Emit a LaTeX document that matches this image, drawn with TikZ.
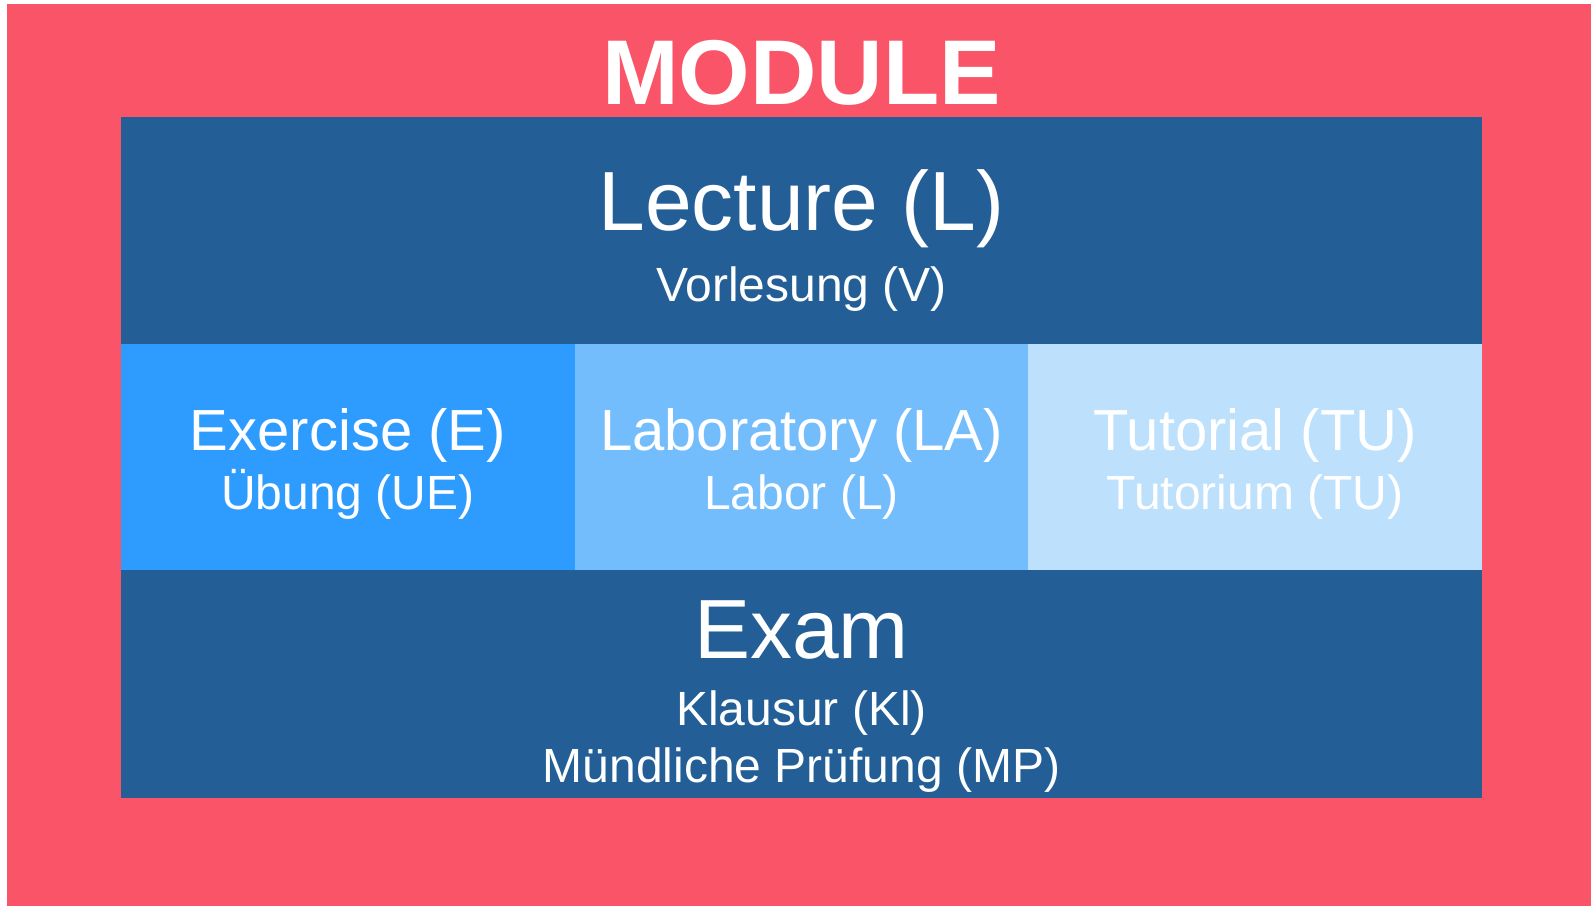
\documentclass[tikz,border=0pt]{standalone}
\usepackage{fontspec}
\setmainfont{Liberation Sans}
\usetikzlibrary{positioning}
\definecolor{modred}{RGB}{249,84,103}
\definecolor{darkband}{RGB}{35,95,150}
\definecolor{exblue}{RGB}{46,156,255}
\definecolor{lablue}{RGB}{116,189,253}
\definecolor{tublue}{RGB}{189,224,253}
\tikzset{
    %Define style for the coloured bands
    band/.style={
           rectangle,
           inner sep=0pt, outer sep=0pt,
           fill=darkband,
           minimum width=680.5pt,
           minimum height=113.5pt},
    part/.style={
           rectangle,
           inner sep=0pt, outer sep=0pt,
           minimum width=226.83pt,
           minimum height=113pt},
    %Define text styles
    heading/.style={
           text=white, inner sep=0pt, anchor=base,
           font=\bfseries\fontsize{46}{50}\selectfont},
    big/.style={
           text=white, inner sep=0pt, anchor=base,
           font=\fontsize{42}{46}\selectfont},
    mid/.style={
           text=white, inner sep=0pt, anchor=base,
           font=\fontsize{29}{32}\selectfont},
    small/.style={
           text=white, inner sep=0pt, anchor=base,
           font=\fontsize{24}{28}\selectfont}
}
\begin{document}
\begin{tikzpicture}[x=0.5pt,y=-0.5pt]
\useasboundingbox (0,0) rectangle (1591,906);
\fill[modred] (7,4) rectangle (1591,906);

 %nodes
\node[band](lecture) at (801.5,230.5){};
\node[part, fill=exblue, below right=0pt of lecture.south west](exercise){};
\node[part, fill=lablue, right=0pt of exercise](lab){};
\node[part, fill=tublue, right=0pt of lab](tutorial){};
\node[band, minimum height=114pt, below right=0pt of exercise.south west](exam){};

 %texts
\node[heading](module) at (801.5,104.3){MODULE};
\node[big](lecturename) at (lecture.center){Lecture (L)};
\node[small, below=35.5pt of lecturename.base, anchor=base](lecturede){Vorlesung (V)};
\node[mid](exercisename) at ([yshift=3.2pt]exercise.center){Exercise (E)};
\node[small, below=29.5pt of exercisename.base, anchor=base](exercisede){Übung (UE)};
\node[mid](labname) at ([yshift=3.2pt]lab.center){Laboratory (LA)};
\node[small, below=29.5pt of labname.base, anchor=base](labde){Labor (L)};
\node[mid](tutorialname) at ([yshift=3.2pt]tutorial.center){Tutorial (TU)};
\node[small, below=29.5pt of tutorialname.base, anchor=base](tutorialde){Tutorium (TU)};
\node[big](examname) at ([yshift=12.9pt]exam.center){Exam};
\node[small, below=33.7pt of examname.base, anchor=base](examde){Klausur (Kl)};
\node[small, below=28.3pt of examde.base, anchor=base](examoral){Mündliche Prüfung (MP)};

\end{tikzpicture}
\end{document}
